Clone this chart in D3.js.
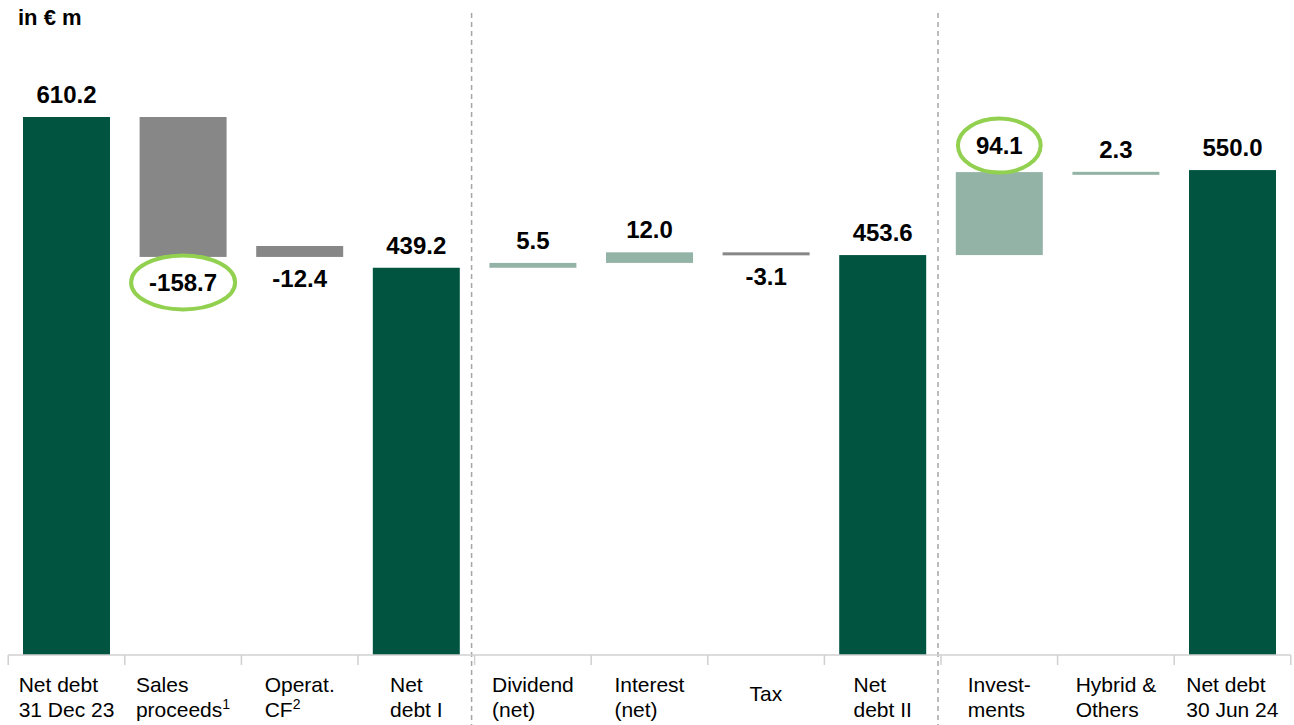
<!DOCTYPE html>
<html>
<head>
<meta charset="utf-8">
<script src="https://cdn.jsdelivr.net/npm/d3@7"></script>
<style>
  body { margin: 0; background: #fff; }
  svg text { font-family: "Liberation Sans", Arial, sans-serif; }
</style>
</head>
<body>
<svg id="chart"></svg>
<script>
// categories, lines split by "|", "^" marks a footnote superscript
const categories = [
  "Net debt|31 Dec 23", "Sales|proceeds^1", "Operat.|CF^2", "Net|debt I",
  "Dividend|(net)", "Interest|(net)", "Tax", "Net|debt II",
  "Invest-|ments", "Hybrid &|Others", "Net debt|30 Jun 24"
];
const values = [610.2, -158.7, -12.4, 439.2, 5.5, 12.0, -3.1, 453.6, 94.1, 2.3, 550.0];
const isTotal = [true, false, false, true, false, false, false, true, false, false, true];
// level each floating bar starts from
const barBase = [0, 451.5, 451.5, 0, 439.2, 444.7, 453.6, 0, 453.6, 545.7, 0];
const highlighted = [1, 8];
const separatorsAfter = [3, 7];

const W = 1294, H = 725;
const colors = { total: "#005440", up: "#93b3a7", down: "#878787", ring: "#92d050" };

const svg = d3.select("#chart").attr("width", W).attr("height", H);

const x = d3.scaleBand()
  .domain(d3.range(values.length))
  .range([8.2, 1290.8])
  .paddingInner(0.254)
  .paddingOuter(0.127);

const y = d3.scaleLinear().domain([0, 610.2]).range([655, 117]);

const bars = values.map((v, i) => ({
  i, v,
  lo: barBase[i],
  hi: barBase[i] + Math.abs(v),
  color: isTotal[i] ? colors.total : (v < 0 ? colors.down : colors.up)
}));

// unit label
svg.append("text")
  .attr("x", 18).attr("y", 25)
  .attr("font-size", 22).attr("font-weight", "bold")
  .text("in € m");

// dashed separators
separatorsAfter.forEach(i => {
  const sx = x(i) + x.bandwidth() + (x.step() - x.bandwidth()) / 2 - 3;
  svg.append("line")
    .attr("x1", sx).attr("x2", sx)
    .attr("y1", 13).attr("y2", H)
    .attr("stroke", "#a6a6a6").attr("stroke-width", 1.5)
    .attr("stroke-dasharray", "5,4");
});

// bars
svg.append("g").selectAll("rect")
  .data(bars)
  .join("rect")
  .attr("x", d => x(d.i))
  .attr("width", x.bandwidth())
  .attr("y", d => y(d.hi))
  .attr("height", d => Math.max(3, y(d.lo) - y(d.hi)))
  .attr("fill", d => d.color);

// value labels (plain hyphen for negatives, like the original)
const fmt = v => v.toFixed(1);
const labelY = d => {
  const extra = highlighted.includes(d.i) ? 4 : 0;
  return d.v < 0 ? y(d.lo) + 30 + extra : y(d.hi) - 14 - extra;
};
const labels = svg.append("g").selectAll("text")
  .data(bars)
  .join("text")
  .attr("x", d => x(d.i) + x.bandwidth() / 2)
  .attr("y", labelY)
  .attr("text-anchor", "middle")
  .attr("font-size", 24).attr("font-weight", "bold")
  .attr("fill", "#000")
  .text(d => fmt(d.v));

// rings around highlighted labels
labels.filter(d => highlighted.includes(d.i)).each(function(d) {
  const w = this.getComputedTextLength();
  svg.append("ellipse")
    .attr("cx", x(d.i) + x.bandwidth() / 2)
    .attr("cy", labelY(d) - 8.5)
    .attr("rx", w / 2 + 18)
    .attr("ry", 27)
    .attr("fill", "none")
    .attr("stroke", colors.ring)
    .attr("stroke-width", 4);
});

// axis
const axis = svg.append("g").attr("stroke", "#d0d0d0").attr("stroke-width", 1.5);
axis.append("line")
  .attr("x1", x.range()[0]).attr("x2", x.range()[1])
  .attr("y1", y(0)).attr("y2", y(0));
d3.range(values.length + 1).forEach(k => {
  const tx = x.range()[0] + k * x.step();
  axis.append("line")
    .attr("x1", tx).attr("x2", tx)
    .attr("y1", y(0)).attr("y2", y(0) + 10);
});

// category labels, left aligned block centred under each bar
const catG = svg.append("g");
categories.forEach((c, i) => {
  const lines = c.split("|");
  const t = catG.append("text").attr("font-size", 21).attr("fill", "#000");
  const first = lines.length === 1 ? 701 : 692;
  lines.forEach((ln, j) => {
    const [main, sup] = ln.split("^");
    t.append("tspan")
      .attr("x", 0).attr("y", first + j * 25)
      .text(main);
    if (sup) {
      t.append("tspan")
        .attr("font-size", 14)
        .attr("dy", -8)
        .text(sup);
    }
  });
  const w = t.node().getBBox().width;
  t.attr("transform", `translate(${x(i) + x.bandwidth() / 2 - w / 2},0)`);
});
</script>
</body>
</html>
